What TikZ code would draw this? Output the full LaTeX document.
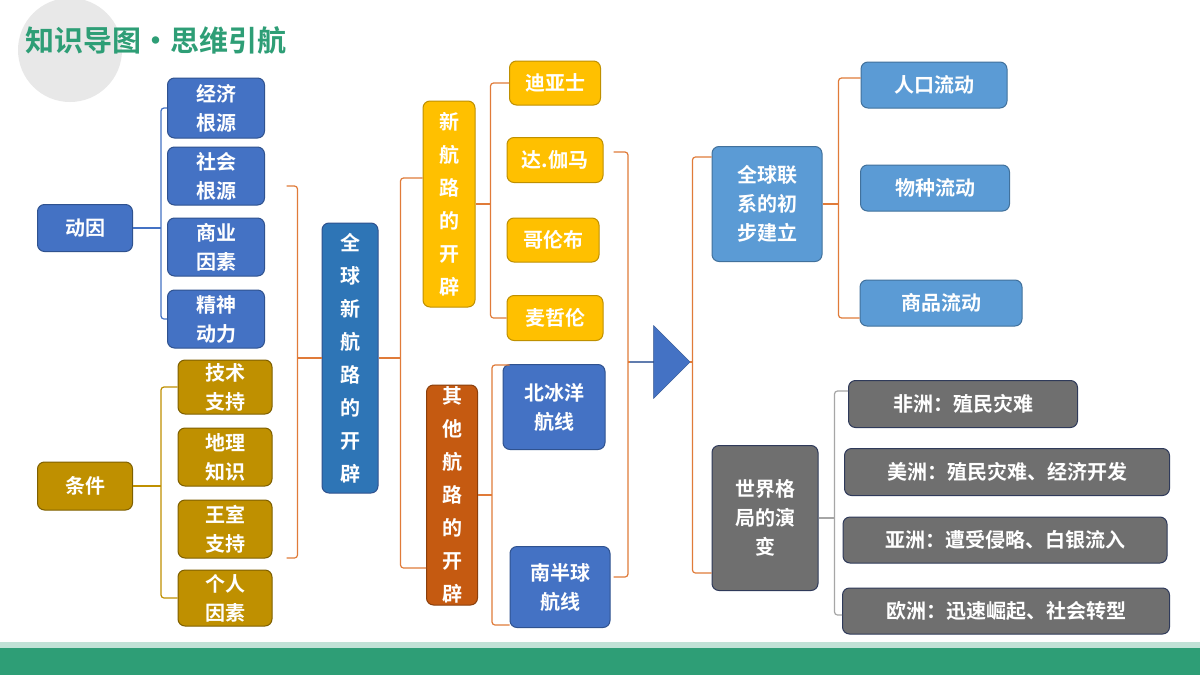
\documentclass[tikz,border=0pt]{standalone}
\usepackage{fontspec}
\setmainfont{Noto Sans CJK SC}[BoldFont={Noto Sans CJK SC Bold}]
\usetikzlibrary{shapes.arrows,calc}
\definecolor{cblue}{HTML}{4472C4}
\definecolor{cblueb}{HTML}{2F528F}
\definecolor{cdeep}{HTML}{2E75B6}
\definecolor{clight}{HTML}{5B9BD5}
\definecolor{clightb}{HTML}{41719C}
\definecolor{cgold}{HTML}{BF9000}
\definecolor{cgoldb}{HTML}{7F6000}
\definecolor{cyel}{HTML}{FFC000}
\definecolor{corg}{HTML}{C55A11}
\definecolor{cline}{HTML}{E07B39}
\definecolor{cgray}{HTML}{6F6F6F}
\definecolor{cgrayb}{HTML}{2F3A5A}
\definecolor{cgreen}{HTML}{2E9E76}
\tikzset{box/.style={rounded corners=7pt, draw=cblueb, line width=1pt, fill=cblue, text=white,
    font=\bfseries\fontsize{20}{29}\selectfont, align=center, inner sep=0pt}}
\tikzset{vbox/.style={box, font=\bfseries\fontsize{20}{33}\selectfont}}
\tikzset{ln/.style={line width=1.2pt, rounded corners=3pt}}
\begin{document}
\begin{tikzpicture}[x=1pt,y=-1pt]
  \useasboundingbox (0,0) rectangle (1200,675);
  \fill[white] (0,0) rectangle (1200,675);
  % title
  \fill[gray!18] (70,50) circle (52);
  \node[anchor=west, text=cgreen, font=\bfseries\fontsize{29}{29}\selectfont] (title) at (22,40) {知识导图•思维引航};
  \fill[cgreen!30] (0,642) rectangle (1200,648);
  \fill[cgreen] (0,648) rectangle (1200,675);
  % left column
  \node[box, minimum width=95, minimum height=47] (dy) at (85,228) {动因};
  \node[box, minimum width=97, minimum height=60] (jj) at (216,108) {经济\\根源};
  \node[box, minimum width=97, minimum height=58] (sh) at (216,176) {社会\\根源};
  \node[box, minimum width=97, minimum height=58] (sy) at (216,247) {商业\\因素};
  \node[box, minimum width=97, minimum height=58] (js) at (216,319) {精神\\动力};
  \node[box, fill=cgold, draw=cgoldb, minimum width=95, minimum height=48] (tj) at (85,486) {条件};
  \node[box, fill=cgold, draw=cgoldb, minimum width=94, minimum height=54] (jz) at (225,387) {技术\\支持};
  \node[box, fill=cgold, draw=cgoldb, minimum width=94, minimum height=58] (dl) at (225,457) {地理\\知识};
  \node[box, fill=cgold, draw=cgoldb, minimum width=94, minimum height=58] (ws) at (225,529) {王室\\支持};
  \node[box, fill=cgold, draw=cgoldb, minimum width=94, minimum height=56] (gr) at (225,598) {个人\\因素};
  \node[vbox, fill=cdeep, minimum width=56, minimum height=270] (qq) at (350,358) {全\\球\\新\\航\\路\\的\\开\\辟};
  % middle column
  \node[vbox, fill=cyel, draw=cgold, minimum width=52, minimum height=206] (xh) at (449,204) {新\\航\\路\\的\\开\\辟};
  \node[vbox, fill=corg, draw=corg!70!black, minimum width=51, minimum height=220] (qt) at (452,495) {其\\他\\航\\路\\的\\开\\辟};
  \node[box, fill=cyel, draw=cgold, minimum width=91, minimum height=44] (dys) at (555,83) {迪亚士};
  \node[box, fill=cyel, draw=cgold, minimum width=96, minimum height=45] (dgm) at (555,160) {达.伽马};
  \node[box, fill=cyel, draw=cgold, minimum width=92, minimum height=44] (glb) at (553,240) {哥伦布};
  \node[box, fill=cyel, draw=cgold, minimum width=96, minimum height=45] (mzl) at (555,318) {麦哲伦};
  \node[box, minimum width=102, minimum height=85] (bby) at (554,407) {北冰洋\\航线};
  \node[box, minimum width=100, minimum height=81] (nbq) at (560,587) {南半球\\航线};
  \node[single arrow, fill=cblue, draw=cblueb, minimum height=60, minimum width=73,
        single arrow head extend=19, inner sep=0pt] (ar) at (660,362) {};
  % right column
  \node[box, fill=clight, draw=clightb, minimum width=110, minimum height=115] (lx) at (767,204) {全球联\\系的初\\步建立};
  \node[box, fill=clight, draw=clightb, minimum width=146, minimum height=46] (rk) at (934,85) {人口流动};
  \node[box, fill=clight, draw=clightb, minimum width=149, minimum height=46] (wz) at (935,188) {物种流动};
  \node[box, fill=clight, draw=clightb, minimum width=162, minimum height=46] (sp) at (941,303) {商品流动};
  \node[box, fill=cgray, draw=cgrayb, minimum width=106, minimum height=145] (sj) at (765,518) {世界格\\局的演\\变};
  \node[box, fill=cgray, draw=cgrayb, minimum width=229, minimum height=47] (fz) at (963,404) {非洲：殖民灾难};
  \node[box, fill=cgray, draw=cgrayb, minimum width=325, minimum height=47] (mz) at (1007,472) {美洲：殖民灾难、经济开发};
  \node[box, fill=cgray, draw=cgrayb, minimum width=324, minimum height=46] (yz) at (1005,540) {亚洲：遭受侵略、白银流入};
  \node[box, fill=cgray, draw=cgrayb, minimum width=327, minimum height=46] (oz) at (1006,611) {欧洲：迅速崛起、社会转型};
  % brackets
  \draw[ln, cblue] (dy.east) -- ++(28,0) coordinate (b1);
  \draw[ln, cblue] (jj.west) -| (b1) |- (js.west);
  \draw[ln, cgold] (tj.east) -- ++(28,0) coordinate (b2);
  \draw[ln, cgold] (jz.west) -| (b2) |- (gr.west);
  \draw[ln, cline] (qq.west) -- ++(-24,0) coordinate (b3);
  \draw[ln, cline] ($(b3)+(-11,-172)$) -| (b3) |- ++(-11,200);
  \draw[ln, cline] (qq.east) -- ++(22,0) coordinate (b4);
  \draw[ln, cline] ($(xh.west)+(0,-26)$) -| (b4) |- ($(qt.west)+(0,73)$);
  \draw[ln, cline] (xh.east) -- ++(15,0) coordinate (b5);
  \draw[ln, cline] (dys.west) -| (b5) |- (mzl.west);
  \draw[ln, cline] (qt.east) -- ++(14,0) coordinate (b6);
  \draw[ln, cline] ($(bby.west)+(7,-42)$) -| (b6) |- ($(nbq.west)+(0,38)$);
  \draw[ln, cline] (ar.tail) -- ++(-2,0) coordinate (b7);
  \draw[ln, cline] ($(dgm.east)+(10,-8)$) -| ($(b7)+(0,0)$) |- ($(nbq.east)+(3,-10)$);
  \draw[ln, cline] (ar.tip) -- ++(2,0) coordinate (b8);
  \draw[ln, cline] ($(lx.west)+(0,-47)$) -| (b8) |- ($(sj.west)+(0,55)$);
  \draw[ln, cline] (lx.east) -- ++(16,0) coordinate (b9);
  \draw[ln, cline] ($(rk.west)+(0,-7)$) -| (b9) |- ($(sp.west)+(0,15)$);
  \draw[ln, gray!70] (sj.east) -- ++(16,0) coordinate (b10);
  \draw[ln, gray!70] ($(fz.west)+(0,-13)$) -| (b10) |- ($(oz.west)+(0,4)$);
\end{tikzpicture}
\end{document}
